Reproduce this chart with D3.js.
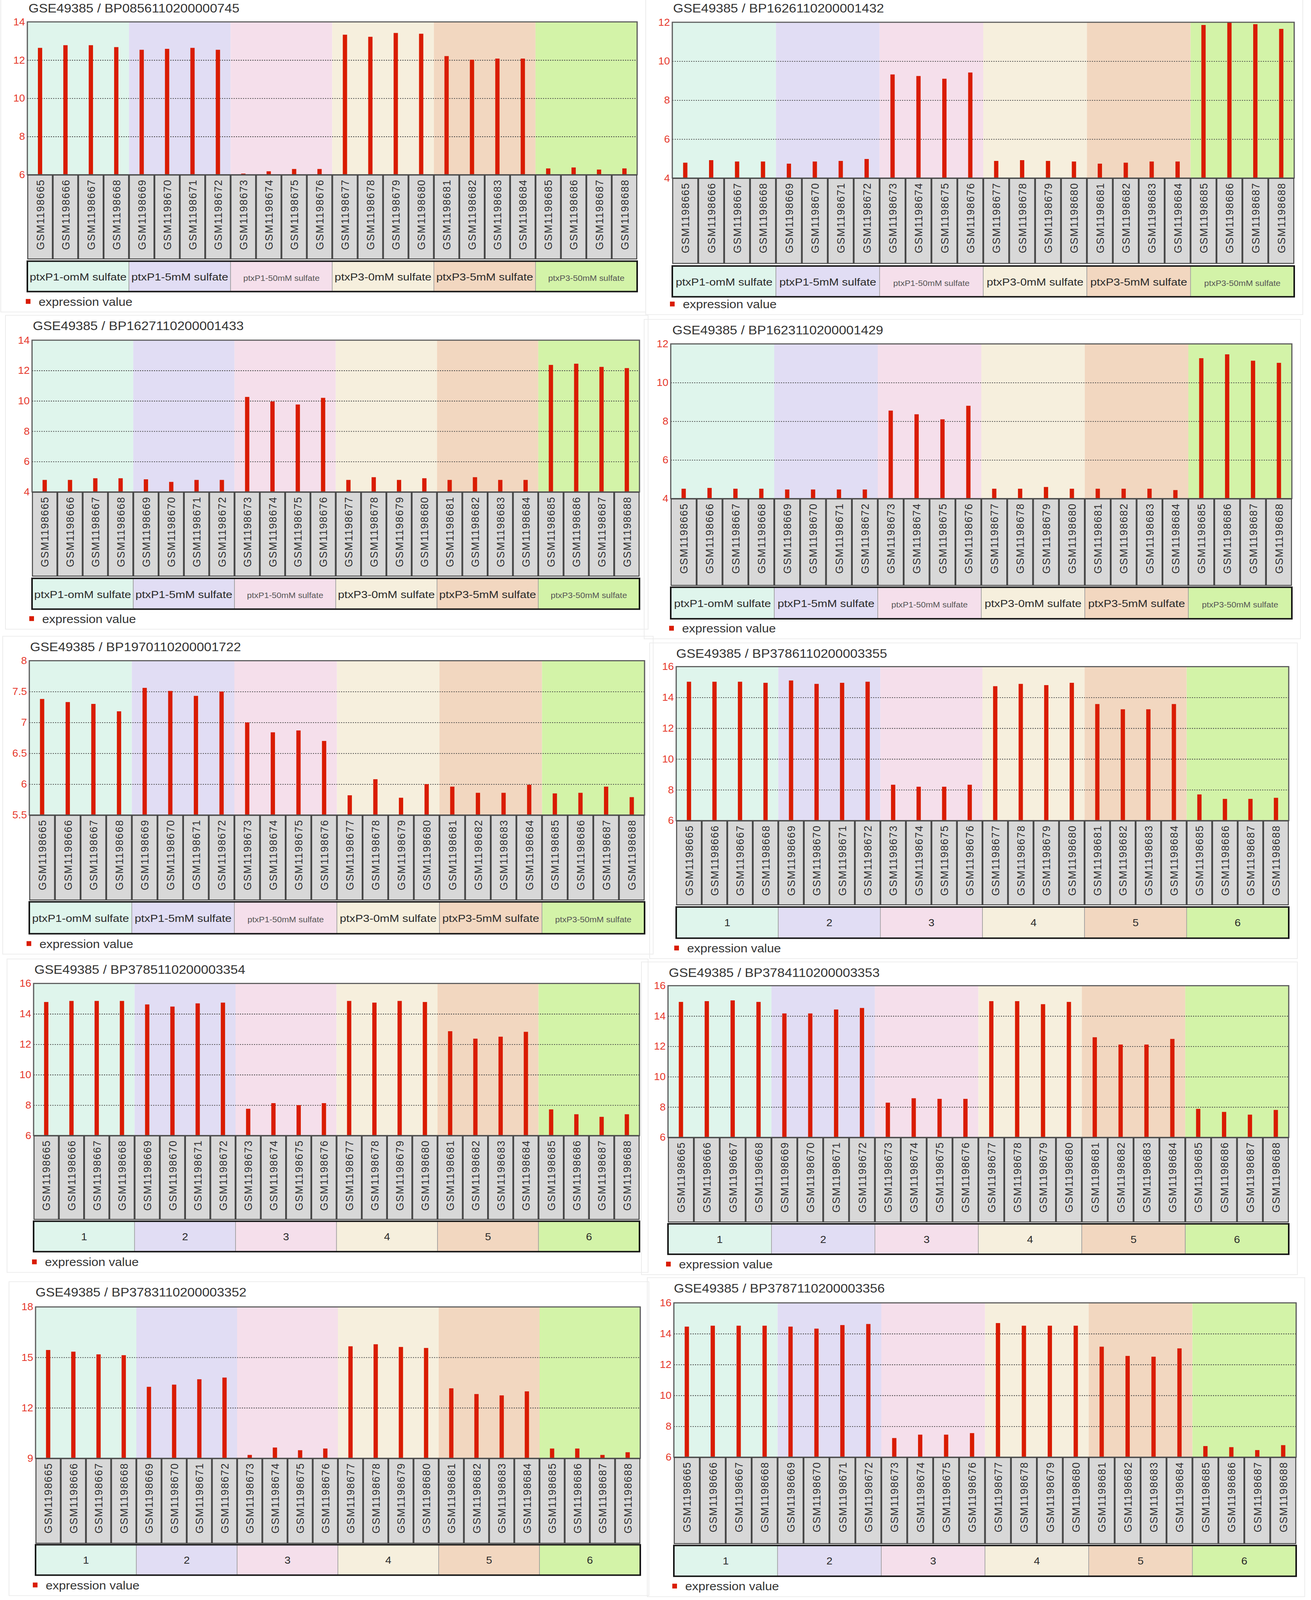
<!DOCTYPE html>
<html>
<head>
<meta charset="utf-8">
<script src="https://cdn.jsdelivr.net/npm/d3@7"></script>
<style>
  html, body { margin: 0; padding: 0; background: #fff; overflow: hidden; }
  svg { display: block; }
  text { font-family: "Liberation Sans", Arial, sans-serif; }
</style>
</head>
<body>
<svg id="chart"></svg>
<script>
const samples = ["GSM1198665", "GSM1198666", "GSM1198667", "GSM1198668",
  "GSM1198669", "GSM1198670", "GSM1198671", "GSM1198672",
  "GSM1198673", "GSM1198674", "GSM1198675", "GSM1198676",
  "GSM1198677", "GSM1198678", "GSM1198679", "GSM1198680",
  "GSM1198681", "GSM1198682", "GSM1198683", "GSM1198684",
  "GSM1198685", "GSM1198686", "GSM1198687", "GSM1198688"];

const groupNames = ["ptxP1-omM sulfate", "ptxP1-5mM sulfate", "ptxP1-50mM sulfate",
  "ptxP3-0mM sulfate", "ptxP3-5mM sulfate", "ptxP3-50mM sulfate"];
const groupSmall = [false, false, true, false, false, true];
const groupNumbers = ["1", "2", "3", "4", "5", "6"];
const groupColors = ["#dff5ec", "#e1ddf4", "#f5dfeb", "#f6efdd", "#f2d7c0", "#d3f3a8"];

const titles = ["GSE49385 / BP0856110200000745", "GSE49385 / BP1626110200001432",
  "GSE49385 / BP1627110200001433", "GSE49385 / BP1623110200001429",
  "GSE49385 / BP1970110200001722", "GSE49385 / BP3786110200003355",
  "GSE49385 / BP3785110200003354", "GSE49385 / BP3784110200003353",
  "GSE49385 / BP3783110200003352", "GSE49385 / BP3787110200003356"];

// expression values, one array per probe
const expr0745 = [12.64, 12.78, 12.78, 12.68, 12.54, 12.59, 12.64, 12.54, 6.06, 6.18, 6.30, 6.30,
  13.33, 13.22, 13.42, 13.38, 12.21, 12.02, 12.08, 12.08, 6.33, 6.38, 6.27, 6.33];
const expr1432 = [4.79, 4.92, 4.85, 4.85, 4.74, 4.85, 4.88, 4.98, 9.32, 9.24, 9.10, 9.42,
  4.88, 4.92, 4.88, 4.85, 4.74, 4.79, 4.85, 4.85, 11.86, 11.98, 11.90, 11.66];
const expr1433 = [4.79, 4.79, 4.90, 4.90, 4.83, 4.66, 4.79, 4.79, 10.26, 9.96, 9.76, 10.20,
  4.79, 4.97, 4.79, 4.90, 4.79, 4.97, 4.79, 4.79, 12.37, 12.45, 12.24, 12.16];
const expr1429 = [4.51, 4.55, 4.51, 4.51, 4.47, 4.47, 4.47, 4.47, 8.55, 8.36, 8.10, 8.80,
  4.51, 4.51, 4.60, 4.51, 4.51, 4.51, 4.51, 4.44, 11.26, 11.46, 11.13, 11.02];
const expr1722 = [7.38, 7.33, 7.30, 7.18, 7.56, 7.51, 7.43, 7.50, 7.00, 6.84, 6.87, 6.70,
  5.82, 6.08, 5.78, 6.00, 5.96, 5.86, 5.86, 5.99, 5.85, 5.86, 5.96, 5.79];
const expr3355 = [15.02, 15.02, 15.02, 14.95, 15.10, 14.88, 14.95, 15.02, 8.33, 8.20, 8.20, 8.33,
  14.73, 14.88, 14.80, 14.95, 13.57, 13.23, 13.23, 13.57, 7.70, 7.41, 7.41, 7.48];
const expr3354 = [14.78, 14.85, 14.85, 14.85, 14.62, 14.48, 14.69, 14.74, 7.76, 8.13, 8.00, 8.13,
  14.85, 14.74, 14.85, 14.78, 12.86, 12.37, 12.50, 12.82, 7.72, 7.40, 7.23, 7.40];
const expr3353 = [14.93, 14.98, 15.03, 14.93, 14.17, 14.17, 14.43, 14.53, 8.29, 8.58, 8.54, 8.54,
  14.98, 14.98, 14.78, 14.93, 12.60, 12.12, 12.12, 12.49, 7.88, 7.68, 7.50, 7.81];
const expr3352 = [15.44, 15.34, 15.18, 15.13, 13.25, 13.38, 13.70, 13.80, 9.20, 9.64, 9.48, 9.58,
  15.66, 15.78, 15.62, 15.56, 13.16, 12.82, 12.74, 12.98, 9.58, 9.58, 9.20, 9.36];
const expr3356 = [14.46, 14.52, 14.52, 14.52, 14.46, 14.33, 14.56, 14.63, 7.24, 7.46, 7.46, 7.56,
  14.69, 14.52, 14.52, 14.52, 13.16, 12.56, 12.51, 13.05, 6.72, 6.65, 6.46, 6.78];

const ticks6to14 = [6, 8, 10, 12, 14];
const ticks4to12 = [4, 6, 8, 10, 12];
const ticks4to14 = [4, 6, 8, 10, 12, 14];
const ticks55to8 = [5.5, 6, 6.5, 7, 7.5, 8];
const ticks6to16 = [6, 8, 10, 12, 14, 16];
const ticks9to18 = [9, 12, 15, 18];

const series = [expr0745, expr1432, expr1433, expr1429, expr1722,
  expr3355, expr3354, expr3353, expr3352, expr3356];
const yTicks = [ticks6to14, ticks4to12, ticks4to14, ticks4to12, ticks55to8,
  ticks6to16, ticks6to16, ticks6to16, ticks9to18, ticks6to16];
const useNumbers = [false, false, false, false, false, true, true, true, true, true];

// where each screenshot-like panel sits on the 3356 x 4313 page
const layout = [
  { L: 70, R: 1631, T: 59, B: 471, labB: 699, legT: 704, legB: 786, tx: 73, ty: 34, ex: 66, ey: 813 },
  { L: 1721, R: 3313, T: 60, B: 480, labB: 711, legT: 717, legB: 800, tx: 1723, ty: 34, ex: 1715, ey: 820 },
  { L: 82, R: 1637, T: 917, B: 1326, labB: 1554, legT: 1559, legB: 1642, tx: 84, ty: 890, ex: 75, ey: 1668 },
  { L: 1717, R: 3307, T: 927, B: 1344, labB: 1579, legT: 1583, legB: 1668, tx: 1721, ty: 901, ex: 1713, ey: 1694 },
  { L: 75, R: 1650, T: 1781, B: 2197, labB: 2427, legT: 2431, legB: 2517, tx: 77, ty: 1755, ex: 68, ey: 2544 },
  { L: 1731, R: 3299, T: 1797, B: 2212, labB: 2440, legT: 2445, legB: 2529, tx: 1731, ty: 1773, ex: 1726, ey: 2556 },
  { L: 86, R: 1637, T: 2651, B: 3061, labB: 3288, legT: 3292, legB: 3374, tx: 88, ty: 2625, ex: 82, ey: 3402 },
  { L: 1710, R: 3299, T: 2657, B: 3066, labB: 3295, legT: 3299, legB: 3381, tx: 1712, ty: 2633, ex: 1705, ey: 3408 },
  { L: 91, R: 1639, T: 3523, B: 3931, labB: 4161, legT: 4164, legB: 4246, tx: 91, ty: 3495, ex: 84, ey: 4273 },
  { L: 1725, R: 3318, T: 3512, B: 3928, labB: 4162, legT: 4166, legB: 4249, tx: 1725, ty: 3484, ex: 1721, ey: 4276 }
];

const W = 3356, H = 4313;

// the page is drawn in 3356x4313 units and stretched to the visible window,
// so nothing falls below the fold if the viewport is a bit shorter
const svg = d3.select("#chart")
  .attr("viewBox", `0 0 ${W} ${H}`)
  .attr("preserveAspectRatio", "none")
  .style("width", "100vw")
  .style("height", "100vh");

function drawPanel(i) {
  const p = layout[i];
  const values = series[i];
  const ticks = yTicks[i];
  const g = svg.append("g");

  const x = d3.scaleBand().domain(samples).range([p.L, p.R]);
  const y = d3.scaleLinear().domain(d3.extent(ticks)).range([p.B, p.T]);
  const bw = x.bandwidth();

  // faint frame around the panel
  g.append("rect")
    .attr("x", p.L - 68).attr("y", p.ty - 40)
    .attr("width", p.R - p.L + 90).attr("height", p.ey - p.ty + 68)
    .attr("fill", "none").attr("stroke", "#ececec").attr("stroke-width", 2);

  // title
  g.append("text")
    .attr("x", p.tx).attr("y", p.ty)
    .attr("font-size", 34).attr("fill", "#333")
    .text(titles[i]);

  // group backgrounds
  const groups = d3.range(6).map((k) => ({
    k: k,
    x0: x(samples[k * 4]),
    x1: x(samples[k * 4 + 3]) + bw
  }));

  g.selectAll("rect.bg")
    .data(groups)
    .enter()
    .append("rect")
    .attr("class", "bg")
    .attr("x", (d) => d.x0).attr("y", p.T)
    .attr("width", (d) => d.x1 - d.x0).attr("height", p.B - p.T)
    .attr("fill", (d) => groupColors[d.k]);

  // dotted grid lines
  const grid = d3.axisLeft(y)
    .tickValues(ticks.slice(1, -1))
    .tickSize(-(p.R - p.L))
    .tickFormat("");
  const gg = g.append("g").attr("transform", `translate(${p.L},0)`).call(grid);
  gg.select(".domain").remove();
  gg.selectAll(".tick line")
    .attr("stroke", "#444")
    .attr("stroke-width", 2)
    .attr("stroke-dasharray", "3,3");

  // bars
  g.selectAll("rect.bar")
    .data(values)
    .enter()
    .append("rect")
    .attr("class", "bar")
    .attr("x", (d, j) => x(samples[j]) + bw / 2 - 5.5)
    .attr("y", (d) => y(d))
    .attr("width", 11)
    .attr("height", (d) => p.B - y(d))
    .attr("fill", "#d91c02");

  // plot border
  g.append("rect")
    .attr("x", p.L).attr("y", p.T)
    .attr("width", p.R - p.L).attr("height", p.B - p.T)
    .attr("fill", "none").attr("stroke", "#5a5a5a").attr("stroke-width", 3);

  // y axis labels
  const yAxis = d3.axisLeft(y)
    .tickValues(ticks)
    .tickSize(0)
    .tickPadding(6)
    .tickFormat(d3.format(""));
  const ya = g.append("g").attr("transform", `translate(${p.L},0)`).call(yAxis);
  ya.select(".domain").remove();
  ya.selectAll(".tick text")
    .attr("font-size", 27)
    .attr("font-family", "Liberation Sans, Arial, sans-serif")
    .attr("fill", "#e6382c");

  // sample label cells
  const cells = g.selectAll("g.cell")
    .data(samples)
    .enter()
    .append("g")
    .attr("class", "cell");
  cells.append("rect")
    .attr("x", (d) => x(d) + 1).attr("y", p.B + 1)
    .attr("width", bw - 2).attr("height", p.labB - p.B - 2)
    .attr("fill", "#d8d8d8").attr("stroke", "#454545").attr("stroke-width", 2.5);
  cells.append("text")
    .attr("transform", (d) => `translate(${x(d) + bw / 2},${p.B + 12}) rotate(-90)`)
    .attr("text-anchor", "end")
    .attr("dy", "0.36em")
    .attr("font-size", 28)
    .attr("letter-spacing", 2)
    .attr("fill", "#2e2e2e")
    .text((d) => d);

  // group legend row
  g.selectAll("rect.leg")
    .data(groups)
    .enter()
    .append("rect")
    .attr("class", "leg")
    .attr("x", (d) => d.x0).attr("y", p.legT)
    .attr("width", (d) => d.x1 - d.x0).attr("height", p.legB - p.legT)
    .attr("fill", (d) => groupColors[d.k])
    .attr("stroke", "#9a9a9a").attr("stroke-width", 1.5);

  const midY = (p.legT + p.legB) / 2;
  g.selectAll("text.leg")
    .data(groups)
    .enter()
    .append("text")
    .attr("class", "leg")
    .attr("x", (d) => (d.x0 + d.x1) / 2)
    .attr("y", midY)
    .attr("dy", (d) => useNumbers[i] ? "0.36em" : (groupSmall[d.k] ? "0.55em" : "0.42em"))
    .attr("text-anchor", "middle")
    .attr("font-size", (d) => useNumbers[i] ? 28 : (groupSmall[d.k] ? 22 : 27))
    .attr("fill", (d) => (!useNumbers[i] && groupSmall[d.k]) ? "#555" : "#2a2a2a")
    .each(function (d) {
      const t = d3.select(this);
      if (useNumbers[i]) {
        t.text(groupNumbers[d.k]);
      } else {
        t.text(groupNames[d.k]);
        if (!groupSmall[d.k]) {
          t.attr("textLength", Math.min(248, d.x1 - d.x0 - 6))
            .attr("lengthAdjust", "spacingAndGlyphs");
        }
      }
    });

  g.append("rect")
    .attr("x", p.L).attr("y", p.legT)
    .attr("width", p.R - p.L).attr("height", p.legB - p.legT)
    .attr("fill", "none").attr("stroke", "#151515").attr("stroke-width", 4);

  // series legend
  g.append("rect")
    .attr("x", p.ex).attr("y", p.ey - 7)
    .attr("width", 12).attr("height", 13)
    .attr("fill", "#d91c02");
  g.append("text")
    .attr("x", p.ex + 33).attr("y", p.ey)
    .attr("dy", "0.35em")
    .attr("font-size", 32)
    .attr("fill", "#333")
    .text("expression value");
}

d3.range(layout.length).forEach(drawPanel);
</script>
</body>
</html>
